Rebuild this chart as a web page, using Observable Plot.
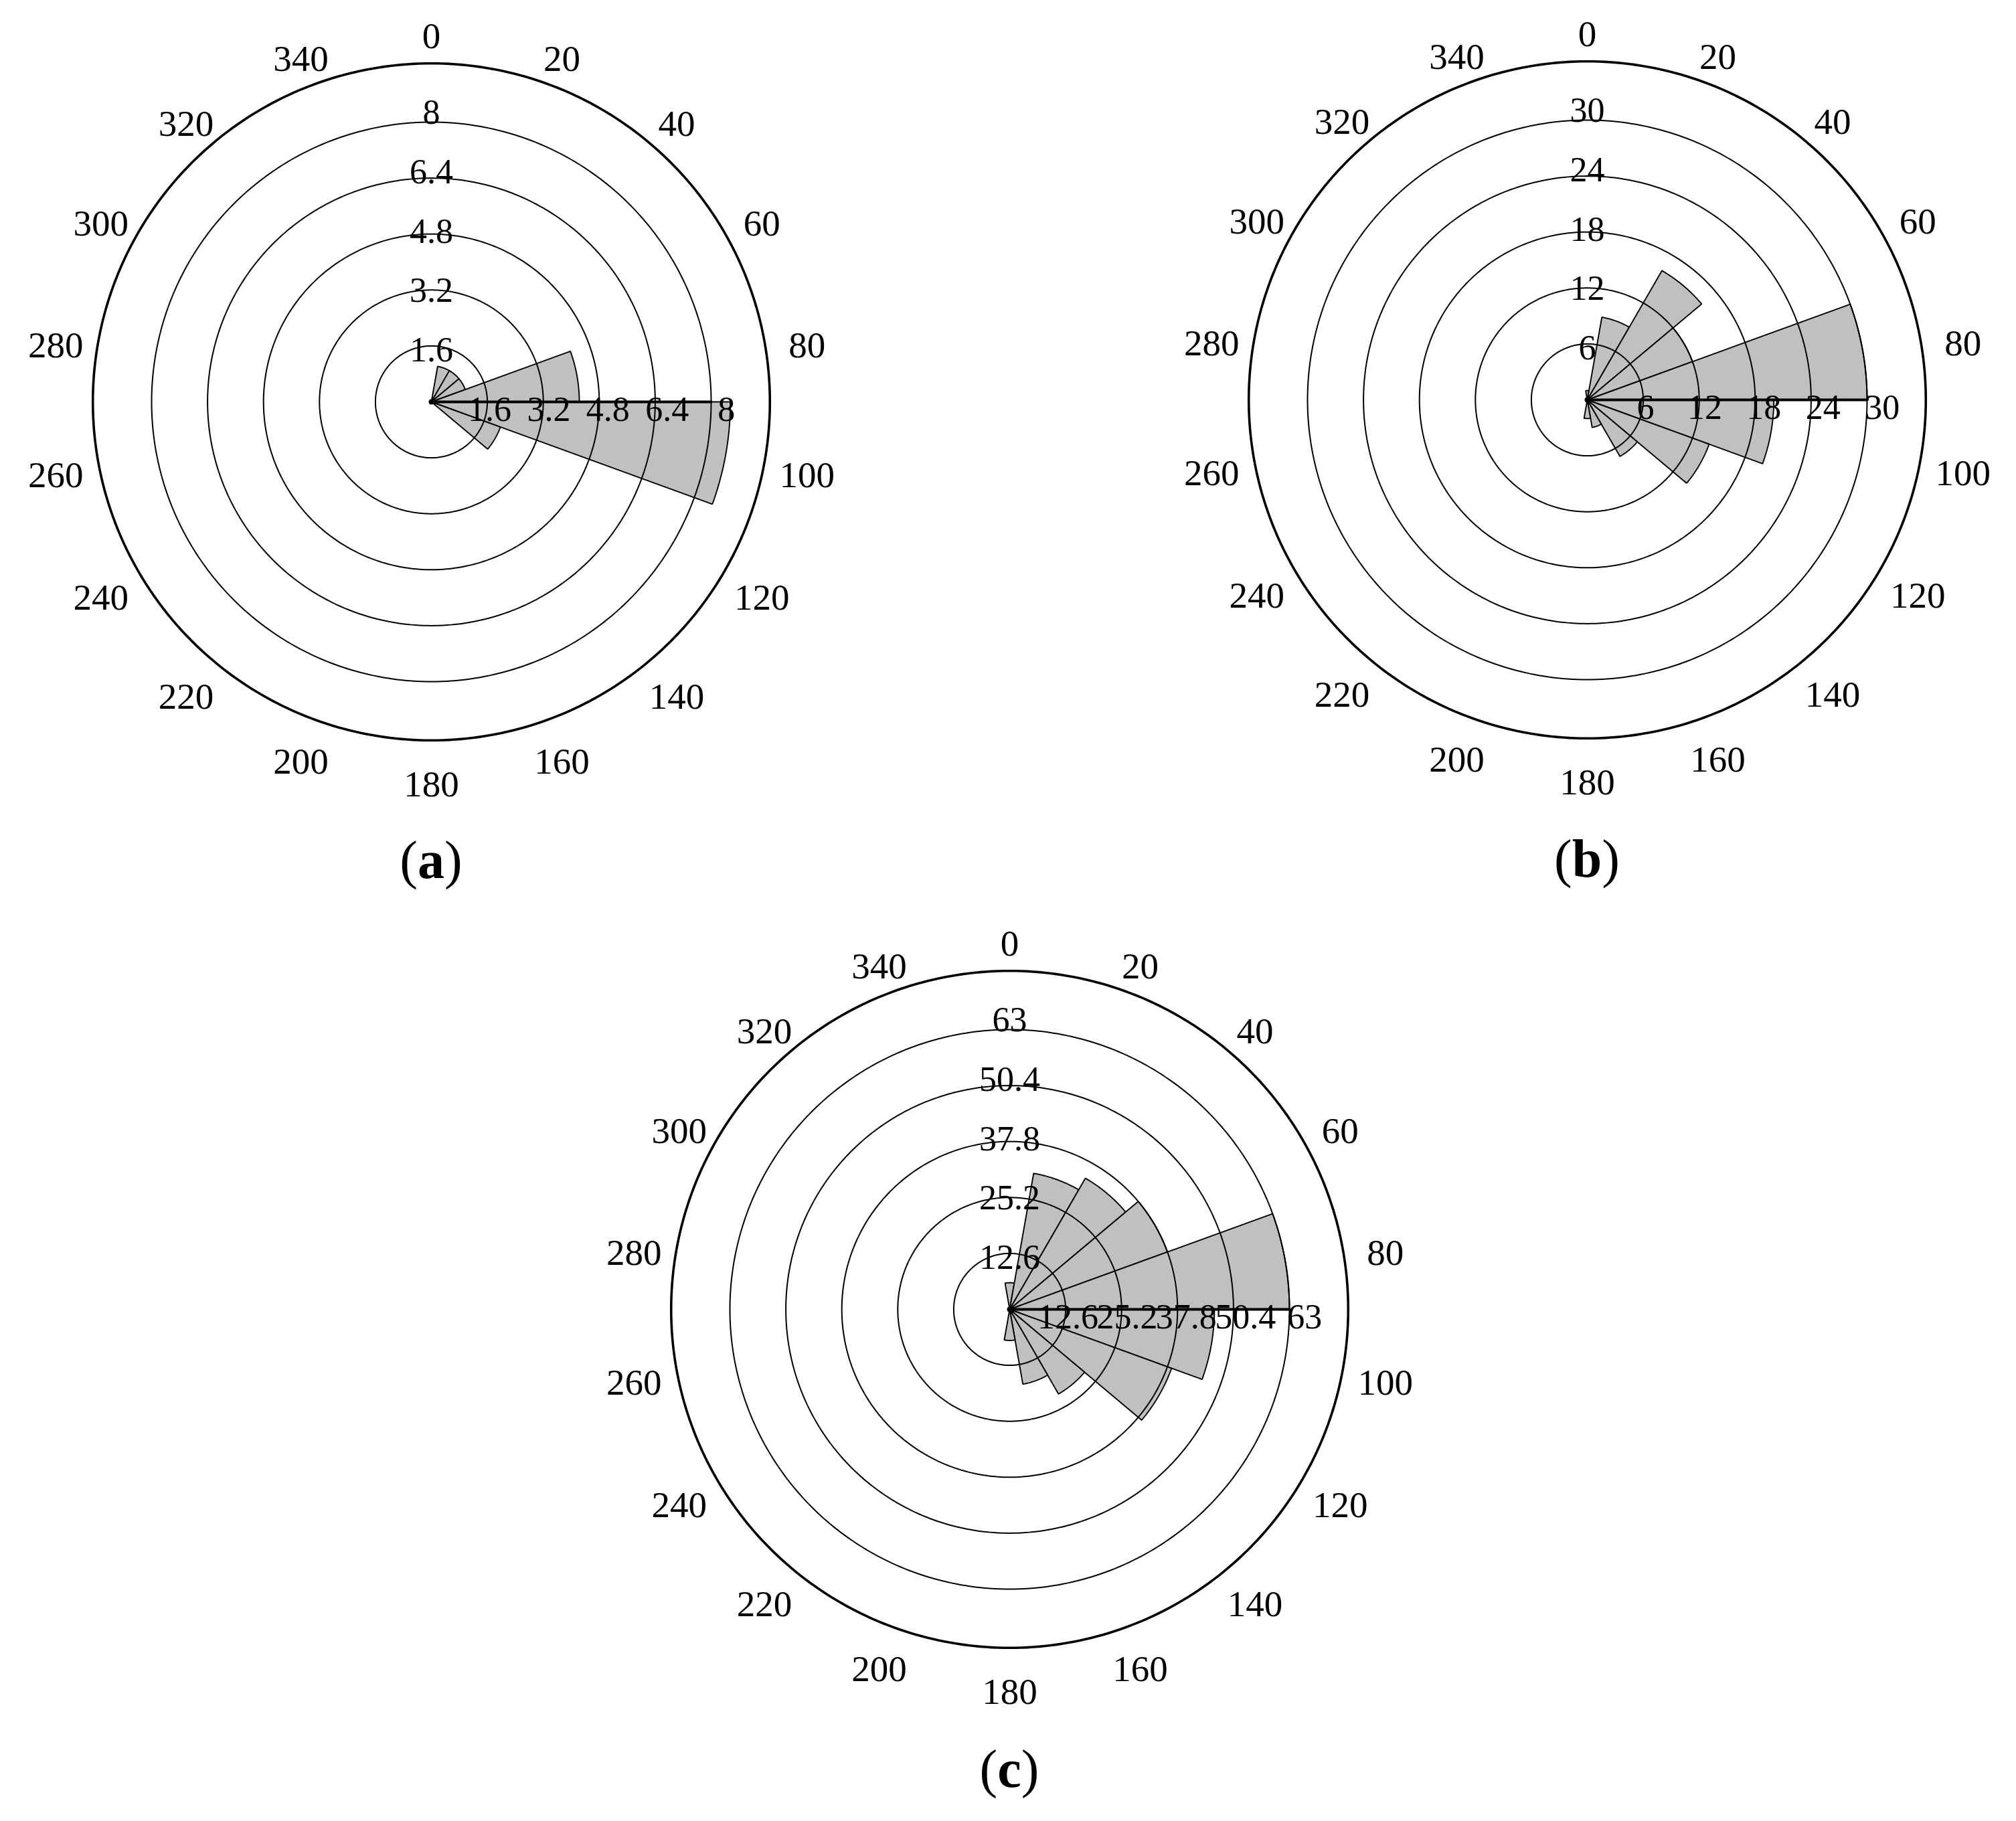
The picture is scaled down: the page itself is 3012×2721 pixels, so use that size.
<!DOCTYPE html>
<html><head><meta charset="utf-8">
<script src="https://cdn.jsdelivr.net/npm/d3@7"></script>
<script src="https://cdn.jsdelivr.net/npm/@observablehq/plot@0.6"></script>
<style>
html,body{margin:0;padding:0;background:#fff;}
#root{position:relative;width:3012px;height:2721px;overflow:hidden;background:#fff;}
.panel{position:absolute;}
.panel svg{overflow:visible;}
.cap{position:absolute;width:400px;text-align:center;font-family:"Liberation Serif","Times New Roman",serif;font-size:80px;line-height:80px;color:#000;}
.cap b{font-weight:bold;}
</style></head><body><div id="root"></div>
<script>
// ---- data ----
const binCenters = [0,20,40,60,80,100,120,140,160,180,200,220,240,260,280,300,320,340];
const binWidth = 20;
const valuesA = [0,1.03,1.03,1.03,4.23,8.55,2.1,0,0,0,0,0,0,0,0,0,0,0];
const valuesB = [1.0,9.0,16.0,12.0,30.0,20.0,13.9,7.0,3.0,2.0,0,0,0,0,0,0,0,0];
const valuesC = [6.0,31.1,34.1,37.8,63.0,46.1,38.8,22.0,17.1,7.0,0,0,0,0,0,0,0,0];
const ringTicksA = [1.6,3.2,4.8,6.4,8];
const ringTicksB = [6,12,18,24,30];
const ringTicksC = [12.6,25.2,37.8,50.4,63];
const angleTicks = [0,20,40,60,80,100,120,140,160,180,200,220,240,260,280,300,320,340];
const panelNames = ["a","b","c"];

// ---- layout ----
const panels = [
  {values: valuesA, ticks: ringTicksA, cx: 644, cy: 600, capTop: 1245},
  {values: valuesB, ticks: ringTicksB, cx: 2371, cy: 597, capTop: 1243},
  {values: valuesC, ticks: ringTicksC, cx: 1508, cy: 1956, capTop: 2603}
];
const W = 1240, H = 1200, RMAXPX = 418;
const rad = d => d * Math.PI / 180;
const font = '"Liberation Serif","Times New Roman",serif';

function makePanel(values, ticks) {
  const M = ticks[ticks.length - 1];
  const s = RMAXPX / M;
  const wedges = [];
  values.forEach((v, i) => {
    if (v <= 0) return;
    const c = binCenters[i];
    wedges.push({x: 0, y: 0, z: i});
    for (let a = c - binWidth / 2; a <= c + binWidth / 2 + 1e-9; a += 0.5)
      wedges.push({x: v * Math.sin(rad(a)), y: v * Math.cos(rad(a)), z: i});
    wedges.push({x: 0, y: 0, z: i});
  });
  const circle = (r, z) => d3.range(0, 361, 1).map(a => ({x: r * Math.sin(rad(a)), y: r * Math.cos(rad(a)), z}));
  const rings = ticks.flatMap(t => circle(t, t));
  const outer = circle(1.21 * M, "outer");
  const axisLine = [{x: 0, y: 0}, {x: M, y: 0}];
  const rx = 570 / s, ry = 559 / s;
  return Plot.plot({
    width: W, height: H, margin: 0,
    x: {domain: [-W / 2 / s, W / 2 / s], axis: null},
    y: {domain: [-H / 2 / s, H / 2 / s], axis: null},
    style: {fontFamily: font, background: "transparent", overflow: "visible"},
    marks: [
      Plot.line(wedges, {x: "x", y: "y", z: "z", fill: "#c0c0c0", stroke: "#000", strokeWidth: 1.9, strokeLinejoin: "miter"}),
      Plot.line(rings, {x: "x", y: "y", z: "z", stroke: "#000", strokeWidth: 2}),
      Plot.line(outer, {x: "x", y: "y", z: "z", stroke: "#000", strokeWidth: 3.6}),
      Plot.line(axisLine, {x: "x", y: "y", stroke: "#000", strokeWidth: 3.8}),
      Plot.dot(axisLine.slice(0, 1), {x: "x", y: "y", r: 4, fill: "#000"}),
      Plot.text(ticks, {x: t => 1.058 * t, y: () => 0, text: t => String(t), dx: -1.5, dy: 12, fontSize: 52, textAnchor: "middle", lineAnchor: "middle", fill: "#000"}),
      Plot.text(ticks, {x: () => 0, y: t => 1.061 * t, text: t => String(t), dy: 11.6, fontSize: 52, textAnchor: "middle", lineAnchor: "middle", fill: "#000"}),
      Plot.text(angleTicks, {x: a => rx * Math.sin(rad(a)), y: a => ry * Math.cos(rad(a)), text: a => String(a), dy: 13, fontSize: 55, textAnchor: "middle", lineAnchor: "middle", fill: "#000"})
    ]
  });
}

const root = document.getElementById("root");
panels.forEach((p, k) => {
  const div = document.createElement("div");
  div.className = "panel";
  div.style.left = (p.cx - W / 2) + "px";
  div.style.top = (p.cy - H / 2) + "px";
  div.appendChild(makePanel(p.values, p.ticks));
  root.appendChild(div);
  const cap = document.createElement("div");
  cap.className = "cap";
  cap.style.left = (p.cx - 200) + "px";
  cap.style.top = p.capTop + "px";
  cap.innerHTML = "(<b>" + panelNames[k] + "</b>)";
  root.appendChild(cap);
});
</script>
</body></html>
